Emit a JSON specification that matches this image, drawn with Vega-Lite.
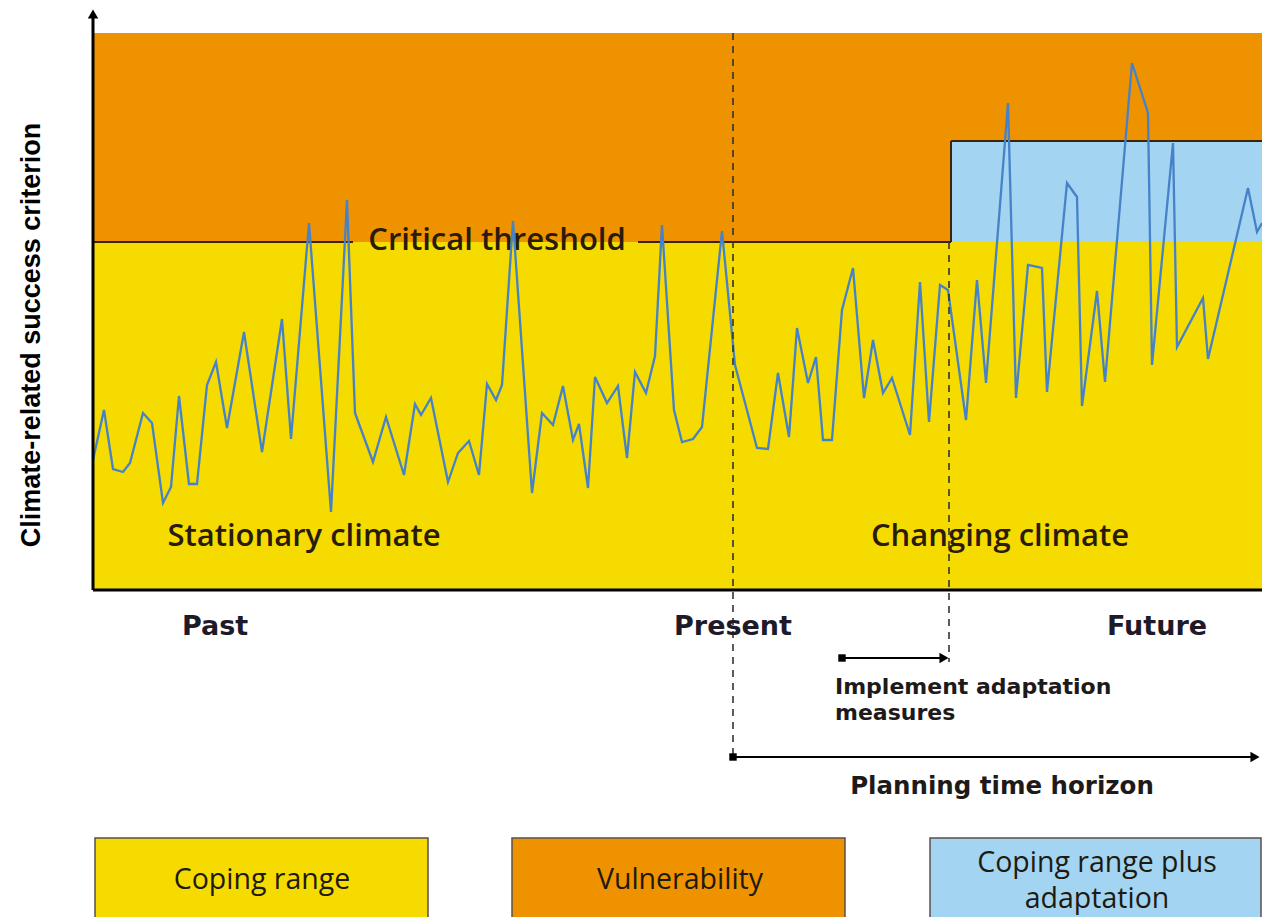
{
  "$schema": "https://vega.github.io/schema/vega-lite/v6.json",
  "width": 1262,
  "height": 917,
  "padding": 0,
  "autosize": "none",
  "background": "white",
  "config": {"view": {"stroke": null}},
  "datasets": {
    "zones": [
      {"zone": "Vulnerability", "t0": 0, "t1": 1169, "v0": 348, "v1": 557},
      {"zone": "Coping range", "t0": 0, "t1": 1169, "v0": 0, "v1": 348},
      {"zone": "Coping range plus adaptation", "t0": 858, "t1": 1169, "v0": 348, "v1": 449}
    ],
    "legendboxes": [
      {"zone": "Coping range", "t0": 2, "t1": 335, "v0": -330, "v1": -248},
      {"zone": "Vulnerability", "t0": 419, "t1": 752, "v0": -330, "v1": -248},
      {"zone": "Coping range plus adaptation", "t0": 837, "t1": 1168, "v0": -330, "v1": -248}
    ],
    "threshold": [
      {"t0": 0, "t1": 260, "v0": 348, "v1": 348},
      {"t0": 545, "t1": 858, "v0": 348, "v1": 348},
      {"t0": 858, "t1": 858, "v0": 348, "v1": 449},
      {"t0": 858, "t1": 1169, "v0": 449, "v1": 449}
    ],
    "series": [
      {"t": 0, "v": 130}, {"t": 11, "v": 180}, {"t": 20, "v": 121}, {"t": 30, "v": 118},
      {"t": 37, "v": 127}, {"t": 50, "v": 177}, {"t": 59, "v": 167}, {"t": 70, "v": 87},
      {"t": 78, "v": 103}, {"t": 86, "v": 194}, {"t": 96, "v": 106}, {"t": 104, "v": 106},
      {"t": 114, "v": 205}, {"t": 123, "v": 228}, {"t": 134, "v": 162}, {"t": 151, "v": 258},
      {"t": 169, "v": 138}, {"t": 189, "v": 271}, {"t": 198, "v": 151}, {"t": 216, "v": 367},
      {"t": 238, "v": 78}, {"t": 254, "v": 390}, {"t": 262, "v": 177}, {"t": 280, "v": 128},
      {"t": 293, "v": 173}, {"t": 311, "v": 115}, {"t": 322, "v": 186}, {"t": 328, "v": 175},
      {"t": 338, "v": 192}, {"t": 355, "v": 108}, {"t": 365, "v": 137}, {"t": 376, "v": 149},
      {"t": 386, "v": 115}, {"t": 394, "v": 206}, {"t": 403, "v": 190}, {"t": 409, "v": 205},
      {"t": 420, "v": 369}, {"t": 439, "v": 97}, {"t": 449, "v": 177}, {"t": 460, "v": 165},
      {"t": 470, "v": 204}, {"t": 480, "v": 150}, {"t": 486, "v": 166}, {"t": 495, "v": 102},
      {"t": 502, "v": 213}, {"t": 514, "v": 187}, {"t": 525, "v": 204}, {"t": 534, "v": 132},
      {"t": 542, "v": 218}, {"t": 553, "v": 197}, {"t": 562, "v": 234}, {"t": 569, "v": 365},
      {"t": 581, "v": 180}, {"t": 589, "v": 148}, {"t": 600, "v": 151}, {"t": 609, "v": 163},
      {"t": 629, "v": 359}, {"t": 642, "v": 225}, {"t": 664, "v": 142}, {"t": 675, "v": 141},
      {"t": 685, "v": 217}, {"t": 696, "v": 153}, {"t": 704, "v": 262}, {"t": 715, "v": 207},
      {"t": 723, "v": 233}, {"t": 730, "v": 150}, {"t": 739, "v": 150}, {"t": 749, "v": 280},
      {"t": 760, "v": 322}, {"t": 771, "v": 192}, {"t": 780, "v": 250}, {"t": 790, "v": 197},
      {"t": 799, "v": 212}, {"t": 817, "v": 155}, {"t": 827, "v": 308}, {"t": 836, "v": 168},
      {"t": 847, "v": 305}, {"t": 855, "v": 300}, {"t": 873, "v": 170}, {"t": 884, "v": 310},
      {"t": 893, "v": 207}, {"t": 915, "v": 487}, {"t": 923, "v": 192}, {"t": 935, "v": 325},
      {"t": 949, "v": 322}, {"t": 954, "v": 198}, {"t": 974, "v": 407}, {"t": 984, "v": 393},
      {"t": 989, "v": 184}, {"t": 1004, "v": 299}, {"t": 1012, "v": 208}, {"t": 1039, "v": 527},
      {"t": 1055, "v": 477}, {"t": 1059, "v": 225}, {"t": 1080, "v": 447}, {"t": 1084, "v": 243},
      {"t": 1110, "v": 292}, {"t": 1115, "v": 231}, {"t": 1155, "v": 402}, {"t": 1164, "v": 358},
      {"t": 1169, "v": 367}
    ],
    "axes": [
      {"t0": 0, "t1": 0, "v0": 0, "v1": 574},
      {"t0": 0, "t1": 1169, "v0": 0, "v1": 0}
    ],
    "dashed": [
      {"name": "Present", "t0": 640, "v0": 557, "v1": -167},
      {"name": "Adaptation", "t0": 856, "v0": 348, "v1": -72}
    ],
    "arrows": [
      {"name": "Implement adaptation measures", "t0": 749, "t1": 850, "v": -68},
      {"name": "Planning time horizon", "t0": 640, "t1": 1160, "v": -167}
    ],
    "heads": [
      {"name": "Implement adaptation measures", "t": 851, "v": -68},
      {"name": "Planning time horizon", "t": 1162, "v": -167}
    ],
    "starts": [
      {"name": "Implement adaptation measures", "t": 749, "v": -68},
      {"name": "Planning time horizon", "t": 640, "v": -167}
    ],
    "yarrow": [{"t": 0, "v": 576}],
    "regionlabels": [
      {"label": "Critical threshold", "t": 404, "v": 349},
      {"label": "Stationary climate", "t": 211, "v": 53},
      {"label": "Changing climate", "t": 907, "v": 53}
    ],
    "timelabels": [
      {"label": "Past", "t": 122, "v": -37},
      {"label": "Present", "t": 640, "v": -37},
      {"label": "Future", "t": 1064, "v": -37}
    ],
    "notes_left": [
      {"label": "Implement adaptation", "t": 742, "v": -97},
      {"label": "measures", "t": 742, "v": -123}
    ],
    "notes_center": [
      {"label": "Planning time horizon", "t": 909, "v": -197}
    ],
    "legendlabels": [
      {"label": "Coping range", "t": 169, "v": -290},
      {"label": "Vulnerability", "t": 587, "v": -290},
      {"label": "Coping range plus", "t": 1004, "v": -273},
      {"label": "adaptation", "t": 1004, "v": -309}
    ],
    "ytitle": [
      {"label": "Climate-related success criterion", "t": -61, "v": 255}
    ]
  },
  "layer": [
    {
      "data": {"name": "zones"},
      "mark": {"type": "rect"},
      "encoding": {
        "x": {"field": "t0", "type": "quantitative", "scale": {"domain": [-93, 1169], "nice": false, "zero": false}, "axis": null},
        "x2": {"field": "t1"},
        "y": {"field": "v0", "type": "quantitative", "scale": {"domain": [-327, 590], "nice": false, "zero": false}, "axis": null},
        "y2": {"field": "v1"},
        "color": {"field": "zone", "type": "nominal", "legend": null,
          "scale": {"domain": ["Coping range", "Vulnerability", "Coping range plus adaptation"], "range": ["#F5DB00", "#EE9200", "#A3D4F2"]}}
      }
    },
    {
      "data": {"name": "legendboxes"},
      "mark": {"type": "rect", "stroke": "#5a5048", "strokeWidth": 1.5},
      "encoding": {
        "x": {"field": "t0", "type": "quantitative"},
        "x2": {"field": "t1"},
        "y": {"field": "v0", "type": "quantitative"},
        "y2": {"field": "v1"},
        "color": {"field": "zone", "type": "nominal", "legend": null}
      }
    },
    {
      "data": {"name": "threshold"},
      "mark": {"type": "rule", "color": "#3a2408", "strokeWidth": 2},
      "encoding": {
        "x": {"field": "t0", "type": "quantitative"},
        "x2": {"field": "t1"},
        "y": {"field": "v0", "type": "quantitative"},
        "y2": {"field": "v1"}
      }
    },
    {
      "data": {"name": "regionlabels"},
      "mark": {"type": "text", "font": "Open Sans", "fontWeight": 600, "fontSize": 31, "align": "center", "baseline": "middle", "color": "#2a1c0c"},
      "encoding": {
        "x": {"field": "t", "type": "quantitative"},
        "y": {"field": "v", "type": "quantitative"},
        "text": {"field": "label"}
      }
    },
    {
      "data": {"name": "series"},
      "mark": {"type": "line", "color": "#4682C8", "strokeWidth": 2.3},
      "encoding": {
        "x": {"field": "t", "type": "quantitative"},
        "y": {"field": "v", "type": "quantitative"}
      }
    },
    {
      "data": {"name": "dashed"},
      "mark": {"type": "rule", "color": "#333333", "strokeWidth": 1.6, "strokeDash": [7, 6]},
      "encoding": {
        "x": {"field": "t0", "type": "quantitative"},
        "y": {"field": "v0", "type": "quantitative"},
        "y2": {"field": "v1"}
      }
    },
    {
      "data": {"name": "axes"},
      "mark": {"type": "rule", "color": "black", "strokeWidth": 3},
      "encoding": {
        "x": {"field": "t0", "type": "quantitative"},
        "x2": {"field": "t1"},
        "y": {"field": "v0", "type": "quantitative"},
        "y2": {"field": "v1"}
      }
    },
    {
      "data": {"name": "yarrow"},
      "mark": {"type": "point", "shape": "triangle-up", "filled": true, "color": "black", "size": 110, "opacity": 1},
      "encoding": {
        "x": {"field": "t", "type": "quantitative"},
        "y": {"field": "v", "type": "quantitative"}
      }
    },
    {
      "data": {"name": "arrows"},
      "mark": {"type": "rule", "color": "black", "strokeWidth": 1.8},
      "encoding": {
        "x": {"field": "t0", "type": "quantitative"},
        "x2": {"field": "t1"},
        "y": {"field": "v", "type": "quantitative"}
      }
    },
    {
      "data": {"name": "heads"},
      "mark": {"type": "point", "shape": "triangle-right", "filled": true, "color": "black", "size": 110, "opacity": 1},
      "encoding": {
        "x": {"field": "t", "type": "quantitative"},
        "y": {"field": "v", "type": "quantitative"}
      }
    },
    {
      "data": {"name": "starts"},
      "mark": {"type": "point", "shape": "square", "filled": true, "color": "black", "size": 55, "opacity": 1},
      "encoding": {
        "x": {"field": "t", "type": "quantitative"},
        "y": {"field": "v", "type": "quantitative"}
      }
    },
    {
      "data": {"name": "timelabels"},
      "mark": {"type": "text", "font": "DejaVu Sans", "fontWeight": "bold", "fontSize": 27, "align": "center", "baseline": "middle", "color": "#1e1a2a"},
      "encoding": {
        "x": {"field": "t", "type": "quantitative"},
        "y": {"field": "v", "type": "quantitative"},
        "text": {"field": "label"}
      }
    },
    {
      "data": {"name": "notes_left"},
      "mark": {"type": "text", "font": "DejaVu Sans", "fontWeight": "bold", "fontSize": 22, "align": "left", "baseline": "middle", "color": "#1e1a1a"},
      "encoding": {
        "x": {"field": "t", "type": "quantitative"},
        "y": {"field": "v", "type": "quantitative"},
        "text": {"field": "label"}
      }
    },
    {
      "data": {"name": "notes_center"},
      "mark": {"type": "text", "font": "DejaVu Sans", "fontWeight": "bold", "fontSize": 24.5, "align": "center", "baseline": "middle", "color": "#1e1a1a"},
      "encoding": {
        "x": {"field": "t", "type": "quantitative"},
        "y": {"field": "v", "type": "quantitative"},
        "text": {"field": "label"}
      }
    },
    {
      "data": {"name": "legendlabels"},
      "mark": {"type": "text", "font": "Open Sans", "fontWeight": 500, "fontSize": 28.5, "align": "center", "baseline": "middle", "color": "#1e1a10"},
      "encoding": {
        "x": {"field": "t", "type": "quantitative"},
        "y": {"field": "v", "type": "quantitative"},
        "text": {"field": "label"}
      }
    },
    {
      "data": {"name": "ytitle"},
      "mark": {"type": "text", "font": "Liberation Sans", "fontWeight": "bold", "fontSize": 27, "angle": 270, "align": "center", "baseline": "middle", "color": "black"},
      "encoding": {
        "x": {"field": "t", "type": "quantitative"},
        "y": {"field": "v", "type": "quantitative"},
        "text": {"field": "label"}
      }
    }
  ]
}
